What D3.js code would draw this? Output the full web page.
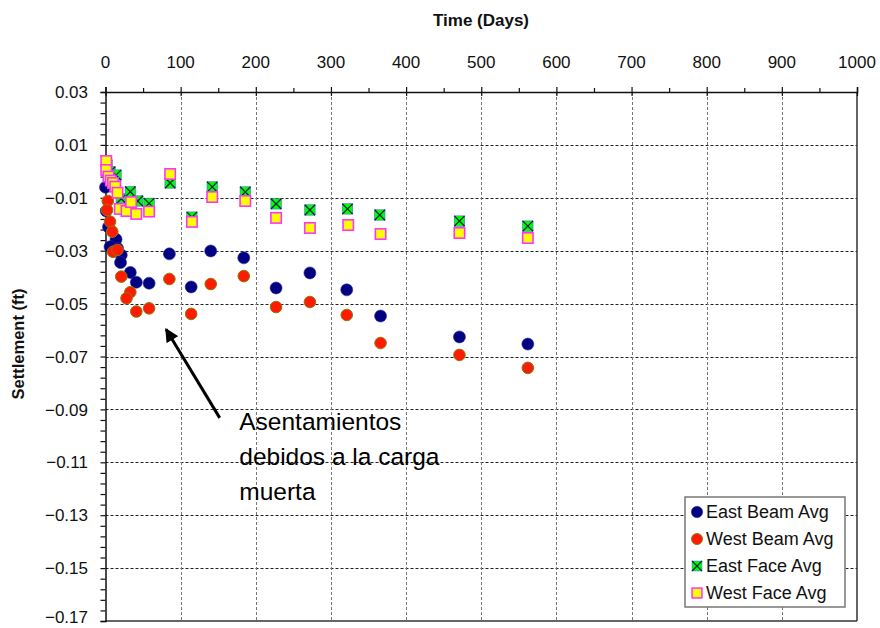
<!DOCTYPE html>
<html>
<head>
<meta charset="utf-8">
<script src="https://cdn.jsdelivr.net/npm/d3@7"></script>
<style>
  html, body { margin: 0; padding: 0; background: #fff; }
  svg { display: block; font-family: "Liberation Sans", Arial, sans-serif; }
</style>
</head>
<body>
<svg id="chart" width="880" height="628"></svg>
<script>
// Settlement readings (ft) versus time (days)
const eastBeamDays = [0, 1, 4, 14, 6, 16, 21, 20, 33, 41, 58, 85, 114, 140, 184, 227, 272, 321, 366, 471, 562];
const eastBeamVals = [-0.006, -0.015, -0.021, -0.0257, -0.0285, -0.0291, -0.0316, -0.0345, -0.0382, -0.0419, -0.0423, -0.0312, -0.0437, -0.0301, -0.0327, -0.0441, -0.0384, -0.0448, -0.0547, -0.0626, -0.0653];

const westBeamDays = [3, 2, 6, 9, 10, 16, 21, 33, 28, 41, 58, 85, 114, 140, 184, 227, 272, 321, 366, 471, 562];
const westBeamVals = [-0.0112, -0.0146, -0.0190, -0.0228, -0.0304, -0.0297, -0.0398, -0.0457, -0.0480, -0.0530, -0.0518, -0.0407, -0.0539, -0.0426, -0.0396, -0.0513, -0.0494, -0.0543, -0.0649, -0.0694, -0.0743];

const eastFaceDays = [2, 6, 10, 14, 21, 33, 43, 58, 86, 115, 142, 186, 227, 272, 322, 365, 471, 562];
const eastFaceVals = [0.0024, -0.0002, -0.0029, -0.0014, -0.0104, -0.0077, -0.0112, -0.0121, -0.0044, -0.0173, -0.0059, -0.0078, -0.0123, -0.0146, -0.0142, -0.0165, -0.0188, -0.0207];

const westFaceDays = [1, 1, 4, 7, 10, 13, 16, 19, 28, 34, 41, 58, 86, 115, 142, 186, 227, 272, 323, 366, 471, 562];
const westFaceVals = [0.0039, 0.0005, -0.0020, -0.0035, -0.0044, -0.0058, -0.0081, -0.0142, -0.0150, -0.0116, -0.0161, -0.0152, -0.0010, -0.0191, -0.0097, -0.0112, -0.0176, -0.0214, -0.0203, -0.0237, -0.0233, -0.0252];

const seriesNames = ["East Beam Avg", "West Beam Avg", "East Face Avg", "West Face Avg"];
const xTicks = [0, 100, 200, 300, 400, 500, 600, 700, 800, 900, 1000];
const yTicks = [0.03, 0.01, -0.01, -0.03, -0.05, -0.07, -0.09, -0.11, -0.13, -0.15, -0.17];
const annotationLines = ["Asentamientos", "debidos a la carga", "muerta"];

const svg = d3.select("#chart");
const plot = { left: 105.5, right: 857, top: 92, bottom: 621 };

const x = d3.scaleLinear().domain([0, 1000]).range([plot.left, plot.right]);
const y = d3.scaleLinear().domain([0.03, -0.17]).range([plot.top, plot.bottom]);

const zip = (ds, vs) => ds.map((d, i) => ({ d, v: vs[i] }));
const series = [
  { name: seriesNames[0], pts: zip(eastBeamDays, eastBeamVals), kind: "eastBeam" },
  { name: seriesNames[1], pts: zip(westBeamDays, westBeamVals), kind: "westBeam" },
  { name: seriesNames[2], pts: zip(eastFaceDays, eastFaceVals), kind: "eastFace" },
  { name: seriesNames[3], pts: zip(westFaceDays, westFaceVals), kind: "westFace" }
];

// Gridlines
const grid = svg.append("g");
grid.selectAll("line.h").data(yTicks.slice(1, -1)).join("line")
  .attr("x1", plot.left).attr("x2", plot.right)
  .attr("y1", d => Math.round(y(d)) + 0.5).attr("y2", d => Math.round(y(d)) + 0.5)
  .attr("stroke", "#222").attr("stroke-width", 1).attr("stroke-dasharray", "3,2");
grid.selectAll("line.v").data(xTicks.slice(1, -1)).join("line")
  .attr("y1", plot.top).attr("y2", plot.bottom)
  .attr("x1", d => Math.round(x(d)) + 0.5).attr("x2", d => Math.round(x(d)) + 0.5)
  .attr("stroke", "#777").attr("stroke-width", 1).attr("stroke-dasharray", "3,2");

// Frame: right and bottom borders
svg.append("line").attr("x1", plot.right).attr("x2", plot.right).attr("y1", plot.top).attr("y2", plot.bottom)
  .attr("stroke", "#333").attr("stroke-width", 1.5);
svg.append("line").attr("x1", plot.left).attr("x2", plot.right).attr("y1", plot.bottom).attr("y2", plot.bottom)
  .attr("stroke", "#333").attr("stroke-width", 1.5);

// Top axis (time)
const xMinor = d3.range(0, 1001, 50);
const topAxis = svg.append("g").attr("transform", `translate(0,${plot.top})`)
  .call(d3.axisTop(x).tickValues(xMinor).tickSize(5).tickFormat(""));
topAxis.select(".domain").attr("stroke", "#111").attr("stroke-width", 1.5);
topAxis.selectAll(".tick line").attr("stroke", "#111").attr("stroke-width", 1.2)
  .attr("y2", d => d % 100 === 0 ? -5 : -4)
  .attr("y1", d => d % 100 === 0 ? 4 : 0);
svg.append("g").selectAll("text").data(xTicks).join("text")
  .attr("x", d => x(d)).attr("y", 68)
  .attr("text-anchor", "middle").attr("font-size", 17).attr("fill", "#111")
  .text(d => d);

// Left axis (settlement)
const yMinor = d3.range(0, 51).map(i => +(0.03 - i * 0.004).toFixed(4));
const leftAxis = svg.append("g").attr("transform", `translate(${plot.left},0)`)
  .call(d3.axisLeft(y).tickValues(yMinor).tickSize(5).tickFormat(""));
leftAxis.select(".domain").attr("stroke", "#111").attr("stroke-width", 1.5);
leftAxis.selectAll(".tick line").attr("stroke", "#111").attr("stroke-width", 1.2);
svg.append("g").selectAll("text").data(yTicks).join("text")
  .attr("x", 88).attr("y", d => Math.min(y(d), 617)).attr("dy", "0.36em")
  .attr("text-anchor", "end").attr("font-size", 17).attr("fill", "#111")
  .text(d => d3.format(".2f")(d));

// Axis titles
svg.append("text").attr("x", 481).attr("y", 26).attr("text-anchor", "middle")
  .attr("font-size", 17).attr("font-weight", "bold").attr("fill", "#111").text("Time (Days)");
svg.append("text").attr("transform", "translate(24,344) rotate(-90)").attr("text-anchor", "middle")
  .attr("font-size", 16.5).attr("font-weight", "bold").attr("fill", "#111").text("Settlement (ft)");

// Marker renderers
function drawMarker(g, kind) {
  if (kind === "eastBeam") {
    g.append("circle").attr("r", 6).attr("fill", "#000080").attr("stroke", "#2a2a9a").attr("stroke-width", 0.6);
  } else if (kind === "westBeam") {
    g.append("circle").attr("r", 5.8).attr("fill", "#ff1a00").attr("stroke", "#8a7a10").attr("stroke-width", 1);
  } else if (kind === "eastFace") {
    const s = 5.2;
    g.append("rect").attr("x", -s).attr("y", -s).attr("width", 2 * s).attr("height", 2 * s)
      .attr("fill", "#00ff00").attr("stroke", "#4a6ad0").attr("stroke-width", 0.6);
    g.append("path").attr("d", `M${-s},${-s}L${s},${s}M${-s},${s}L${s},${-s}`)
      .attr("stroke", "#002a40").attr("stroke-width", 1.3);
  } else {
    const s = 5.2;
    g.append("rect").attr("x", -s).attr("y", -s).attr("width", 2 * s).attr("height", 2 * s)
      .attr("fill", "#ffff00").attr("stroke", "#ff33ff").attr("stroke-width", 1.6);
  }
}

// Data points
series.forEach(s => {
  const g = svg.append("g");
  s.pts.forEach(p => {
    const m = g.append("g").attr("transform", `translate(${x(p.d)},${y(p.v)})`);
    drawMarker(m, s.kind);
  });
});

// Annotation arrow and note
const arrowTail = { d: 152, v: -0.0932 };
const arrowHead = { d: 80.5, v: -0.0597 };
const defs = svg.append("defs");
defs.append("marker").attr("id", "arrowhead").attr("viewBox", "0 0 10 10")
  .attr("refX", 9).attr("refY", 5).attr("markerWidth", 5).attr("markerHeight", 4.5)
  .attr("orient", "auto").attr("markerUnits", "strokeWidth")
  .append("path").attr("d", "M0,0L10,5L0,10Z").attr("fill", "#000");
svg.append("line")
  .attr("x1", x(arrowTail.d)).attr("y1", y(arrowTail.v))
  .attr("x2", x(arrowHead.d)).attr("y2", y(arrowHead.v))
  .attr("stroke", "#000").attr("stroke-width", 3).attr("marker-end", "url(#arrowhead)");

const note = svg.append("text").attr("font-size", 24.5).attr("fill", "#000");
annotationLines.forEach((t, i) => {
  note.append("tspan").attr("x", x(178)).attr("y", 430 + i * 34.8).text(t);
});

// Legend
const lg = svg.append("g").attr("transform", "translate(685,497)");
lg.append("rect").attr("width", 160).attr("height", 110).attr("fill", "#fff")
  .attr("stroke", "#777").attr("stroke-width", 1.5);
series.forEach((s, i) => {
  const row = lg.append("g").attr("transform", `translate(12,${15 + i * 27})`);
  const m = row.append("g").attr("transform", "scale(0.95)");
  drawMarker(m, s.kind);
  row.append("text").attr("x", 9).attr("y", 0).attr("dy", "0.36em")
    .attr("font-size", 18).attr("fill", "#111").text(s.name);
});
</script>
</body>
</html>
